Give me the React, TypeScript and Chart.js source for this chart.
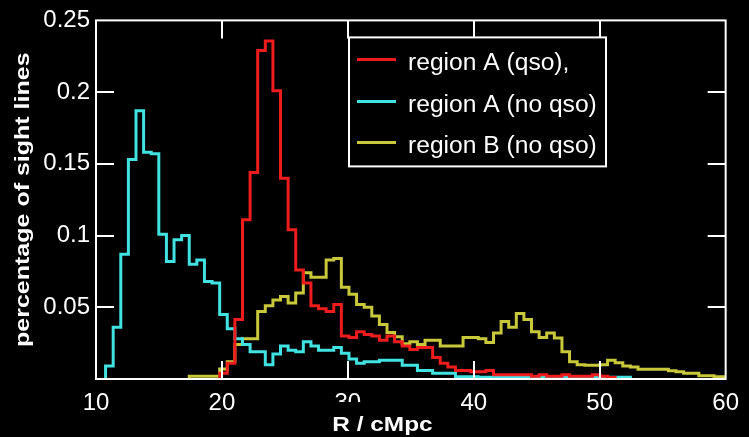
import React, { useEffect, useRef } from 'react';
import { Chart, registerables } from 'chart.js';

Chart.register(...registerables);

// ---- histogram bins (R / cMpc) ----
const BIN_START = 10.156;
const BIN_WIDTH = 0.604;

// ---- axes ----
const X_MIN = 10;
const X_MAX = 60;
const Y_MIN = 0;
const Y_MAX = 0.25;
const xTicks = [10, 20, 30, 40, 50, 60];
const yTicks = [0.05, 0.1, 0.15, 0.2, 0.25];

// ---- series ----
const seriesLabels = ['region A (qso),', 'region A (no qso)', 'region B (no qso)'];
const seriesColors = ['#ee1c1c', '#40e2e2', '#c8c83a'];

const redFirstBin = 16;
const redValues = [
  0.004, 0.011, 0.0415, 0.111, 0.144, 0.229, 0.2356, 0.201, 0.14, 0.104,
  0.076, 0.067, 0.051, 0.049, 0.047, 0.052, 0.03, 0.029, 0.033, 0.031,
  0.03, 0.027, 0.03, 0.026, 0.023, 0.0205, 0.022, 0.022, 0.015, 0.011,
  0.0084, 0.006, 0.006, 0.005, 0.005, 0.006, 0.003, 0.003, 0.003, 0.003,
  0.003, 0.002, 0.003, 0.002, 0.002, 0.003, 0.002, 0.002, 0.002, 0.003,
  0.002, 0.001,
];

const cyanFirstBin = 1;
const cyanValues = [
  0.009, 0.036, 0.087, 0.153, 0.187, 0.158, 0.157, 0.101, 0.082, 0.097,
  0.1, 0.08, 0.083, 0.068, 0.067, 0.045, 0.035, 0.028, 0.024, 0.019,
  0.019, 0.01, 0.0175, 0.023, 0.02, 0.019, 0.026, 0.023, 0.02, 0.02,
  0.022, 0.018, 0.014, 0.011, 0.012, 0.012, 0.013, 0.013, 0.013, 0.0096,
  0.0096, 0.006, 0.006, 0.004, 0.004, 0.004, 0.0016, 0.0016, 0.0016, 0.0012,
  0.0012, 0.0012, 0.0012, 0.0012, 0.0012, 0.0012, 0.0012, 0.0012, 0.0012, 0.0012,
  0.0012, 0.0012, 0.0012, 0.0012, 0.0012, 0.0012, 0.0012, 0.0012, 0.0012,
];

const yellowFirstBin = 12;
const yellowValues = [
  0.002, 0.002, 0.002, 0.002, 0.007, 0.012, 0.024, 0.028, 0.028, 0.047,
  0.051, 0.055, 0.0575, 0.053, 0.06, 0.074, 0.071, 0.071, 0.083, 0.084,
  0.064, 0.059, 0.052, 0.05, 0.044, 0.038, 0.0325, 0.0295, 0.0245, 0.026,
  0.024, 0.027, 0.027, 0.023, 0.023, 0.023, 0.029, 0.029, 0.028, 0.0255,
  0.032, 0.04, 0.036, 0.0457, 0.0415, 0.033, 0.029, 0.032, 0.0285, 0.019,
  0.012, 0.01, 0.0096, 0.0096, 0.01, 0.013, 0.0114, 0.009, 0.0084, 0.0068,
  0.0068, 0.0068, 0.0068, 0.0057, 0.005, 0.004, 0.004, 0.0023, 0.0023, 0.0016,
  0.0016,
];

const FONT = '"Liberation Sans", Arial, Helvetica, sans-serif';

function binEdge(i: number) {
  return BIN_START + i * BIN_WIDTH;
}

function histPoints(first: number, values: number[]) {
  const pts: { x: number; y: number }[] = [{ x: binEdge(first), y: 0 }];
  values.forEach((v, i) => pts.push({ x: binEdge(first + i), y: v }));
  const end = binEdge(first + values.length);
  pts.push({ x: end, y: values[values.length - 1] });
  pts.push({ x: end, y: 0 });
  return pts;
}

function stretchedText(
  ctx: CanvasRenderingContext2D,
  text: string,
  x: number,
  y: number,
  sx: number,
  font: string,
  align: CanvasTextAlign,
  rotate = 0
) {
  ctx.save();
  ctx.translate(x, y);
  if (rotate) ctx.rotate(rotate);
  ctx.scale(sx, 1);
  ctx.font = font;
  ctx.fillStyle = '#ffffff';
  ctx.textAlign = align;
  ctx.textBaseline = 'alphabetic';
  ctx.fillText(text, 0, 0);
  ctx.restore();
}

const decorPlugin = {
  id: 'decor',
  beforeDraw(chart: any) {
    const { ctx, width, height } = chart;
    ctx.save();
    ctx.fillStyle = '#000000';
    ctx.fillRect(0, 0, width, height);
    ctx.restore();
  },
  afterDatasetsDraw(chart: any) {
    const { ctx, chartArea: a, scales } = chart;
    const xs = scales.x;
    const ys = scales.y;
    ctx.save();
    // frame
    ctx.strokeStyle = '#ffffff';
    ctx.lineWidth = 2;
    ctx.strokeRect(a.left, a.top, a.right - a.left, a.bottom - a.top);
    // inward ticks on all sides
    const TL = 18;
    ctx.beginPath();
    xTicks.forEach((v) => {
      if (v <= X_MIN || v >= X_MAX) return;
      const px = Math.round(xs.getPixelForValue(v));
      ctx.moveTo(px, a.bottom);
      ctx.lineTo(px, a.bottom - TL);
      ctx.moveTo(px, a.top);
      ctx.lineTo(px, a.top + TL);
    });
    yTicks.forEach((v) => {
      if (v <= Y_MIN || v >= Y_MAX) return;
      const py = Math.round(ys.getPixelForValue(v));
      ctx.moveTo(a.left, py);
      ctx.lineTo(a.left + TL, py);
      ctx.moveTo(a.right, py);
      ctx.lineTo(a.right - TL, py);
    });
    ctx.stroke();

    // legend box
    const lx = a.left + 253;
    const ly = a.top + 17;
    const lw = 257;
    const lh = 129;
    ctx.fillStyle = '#000000';
    ctx.fillRect(lx, ly, lw, lh);
    ctx.strokeStyle = '#ffffff';
    ctx.lineWidth = 2;
    ctx.strokeRect(lx, ly, lw, lh);
    const rowY = [22, 64, 105];
    seriesLabels.forEach((label, i) => {
      const y = ly + rowY[i];
      ctx.strokeStyle = seriesColors[i];
      ctx.lineWidth = 3;
      ctx.beginPath();
      ctx.moveTo(lx + 8, y);
      ctx.lineTo(lx + 47, y);
      ctx.stroke();
      stretchedText(ctx, label, lx + 59, y + 11, 1.07, `23px ${FONT}`, 'left');
    });
    ctx.restore();
  },
  afterDraw(chart: any) {
    const { ctx, chartArea: a, scales } = chart;
    const xs = scales.x;
    ctx.save();
    // x-axis title (its box hides the lower part of the "30" label)
    const p30 = xs.getPixelForValue(30);
    ctx.fillStyle = '#000000';
    ctx.fillRect(p30 - 22, a.bottom + 23, 112, 40);
    stretchedText(ctx, 'R / cMpc', a.left + 286.5, a.bottom + 52, 1.22, `bold 20px ${FONT}`, 'center');
    // y-axis title
    stretchedText(
      ctx,
      'percentage of sight lines',
      29,
      (a.top + a.bottom) / 2,
      1.25,
      `bold 20px ${FONT}`,
      'center',
      -Math.PI / 2
    );
    ctx.restore();
  },
};

export default function App() {
  const canvasRef = useRef<HTMLCanvasElement | null>(null);

  useEffect(() => {
    document.body.style.margin = '0';
    document.body.style.background = '#000000';
    const canvas = canvasRef.current;
    if (!canvas) return;

    const seriesData = [
      histPoints(redFirstBin, redValues),
      histPoints(cyanFirstBin, cyanValues),
      histPoints(yellowFirstBin, yellowValues),
    ];

    const chart = new Chart(canvas, {
      type: 'line',
      data: {
        datasets: seriesLabels.map((label, i) => ({
          label,
          data: seriesData[i],
          borderColor: seriesColors[i],
          backgroundColor: seriesColors[i],
          borderWidth: 3,
          pointRadius: 0,
          pointHoverRadius: 0,
          stepped: true,
          fill: false,
          tension: 0,
          borderJoinStyle: 'miter',
          borderCapStyle: 'butt',
        })),
      },
      options: {
        responsive: false,
        animation: false,
        events: [],
        layout: { padding: { left: 0, right: 18, top: 15, bottom: 0 } },
        plugins: {
          legend: { display: false },
          tooltip: { enabled: false },
          title: { display: false },
        },
        scales: {
          x: {
            type: 'linear',
            min: X_MIN,
            max: X_MAX,
            afterFit: (s: any) => {
              s.height = 58;
            },
            afterBuildTicks: (s: any) => {
              s.ticks = xTicks.map((v) => ({ value: v }));
            },
            grid: { display: false, drawTicks: false },
            border: { display: false },
            ticks: {
              color: '#ffffff',
              font: { family: FONT, size: 24 },
              padding: 10,
              maxRotation: 0,
              autoSkip: false,
              callback: (v: any) => String(v),
            },
          },
          y: {
            type: 'linear',
            min: Y_MIN,
            max: Y_MAX,
            afterFit: (s: any) => {
              s.width = 96;
            },
            afterBuildTicks: (s: any) => {
              s.ticks = [0, ...yTicks].map((v) => ({ value: v }));
            },
            grid: { display: false, drawTicks: false },
            border: { display: false },
            ticks: {
              color: '#ffffff',
              font: { family: FONT, size: 24 },
              padding: 6,
              autoSkip: false,
              callback: (v: any) => (v === 0 ? '' : String(v)),
            },
          },
        },
      },
      plugins: [decorPlugin],
    } as any);

    return () => chart.destroy();
  }, []);

  return (
    <div style={{ width: 749, height: 437, background: '#000000' }}>
      <canvas ref={canvasRef} width={749} height={437} style={{ display: 'block', width: 749, height: 437 }} />
    </div>
  );
}
